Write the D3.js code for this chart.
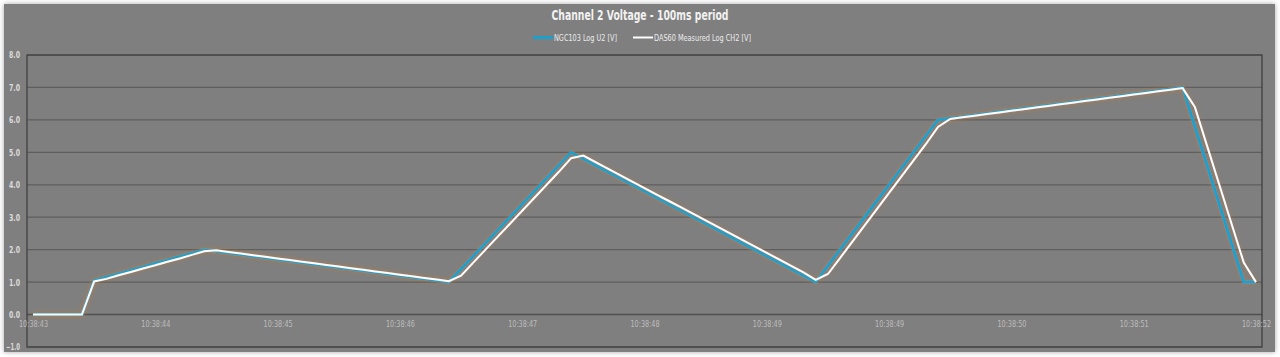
<!DOCTYPE html>
<html><head><meta charset="utf-8">
<script src="https://cdn.jsdelivr.net/npm/d3@7"></script>
<style>html,body{margin:0;padding:0;background:#fff;}svg{display:block;}</style>
</head><body>
<script>
const title = "Channel 2 Voltage - 100ms period";
const seriesNames = ["NGC103 Log U2 [V]", "DAS60 Measured Log CH2 [V]"];
const xTickLabels = ["10:38:43","10:38:44","10:38:45","10:38:46","10:38:47","10:38:48","10:38:49","10:38:49","10:38:50","10:38:51","10:38:52"];
const yTicks = [-1,0,1,2,3,4,5,6,7,8];
// 101 samples, 100 ms apart
const ngc103 = [
 0,0,0,0,0,1.05,1.16,1.26,1.37,1.47,1.58,1.68,1.79,1.89,2.0,
 1.95,1.9,1.85,1.8,1.75,1.7,1.65,1.6,1.55,1.5,1.45,1.4,1.35,1.3,1.25,1.2,1.15,1.1,1.05,1.0,
 1.4,1.8,2.2,2.6,3.0,3.4,3.8,4.2,4.6,5.0,
 4.8,4.6,4.4,4.2,4.0,3.8,3.6,3.4,3.2,3.0,2.8,2.6,2.4,2.2,2.0,1.8,1.6,1.4,1.2,1.0,
 1.5,2.0,2.5,3.0,3.5,4.0,4.5,5.0,5.5,6.0,
 6.05,6.1,6.15,6.2,6.25,6.3,6.35,6.4,6.45,6.5,6.55,6.6,6.65,6.7,6.75,6.8,6.85,6.9,6.95,7.0,
 5.8,4.6,3.4,2.2,1.0,1.0
];
const das60 = [
 0,0,0,0,0,1.02,1.1,1.21,1.31,1.42,1.52,1.63,1.73,1.84,1.95,
 1.98,1.93,1.88,1.83,1.78,1.73,1.68,1.63,1.58,1.53,1.48,1.43,1.38,1.33,1.28,1.23,1.18,1.13,1.08,1.03,
 1.2,1.6,2.0,2.4,2.8,3.2,3.6,4.0,4.4,4.82,
 4.9,4.7,4.5,4.3,4.1,3.9,3.7,3.5,3.3,3.1,2.9,2.7,2.5,2.3,2.1,1.9,1.7,1.5,1.3,1.07,
 1.25,1.75,2.25,2.75,3.25,3.75,4.25,4.75,5.25,5.78,
 6.03,6.08,6.13,6.18,6.23,6.28,6.33,6.38,6.43,6.48,6.53,6.58,6.63,6.68,6.73,6.78,6.83,6.88,6.93,6.98,
 6.4,5.2,4.0,2.8,1.6,1.0
];

const FONT = "'DejaVu Sans Condensed','Liberation Sans',sans-serif";
const W = 1280, H = 357;
const svg = d3.select("body").append("svg").attr("width", W).attr("height", H);
const defs = svg.append("defs");
const sh = defs.append("filter").attr("id","shadow").attr("x","-5%").attr("y","-10%").attr("width","110%").attr("height","120%");
sh.append("feGaussianBlur").attr("in","SourceAlpha").attr("stdDeviation",2.5).attr("result","b");
sh.append("feFlood").attr("flood-color","#000").attr("flood-opacity",0.35);
sh.append("feComposite").attr("in2","b").attr("operator","in");
const glow = defs.append("filter").attr("id","glow").attr("x","-5%").attr("y","-20%").attr("width","110%").attr("height","140%");
glow.append("feGaussianBlur").attr("in","SourceAlpha").attr("stdDeviation",2).attr("result","g");
glow.append("feFlood").attr("flood-color","#d2782a").attr("flood-opacity",0.45);
glow.append("feComposite").attr("in2","g").attr("operator","in").attr("result","gc");
const gm = glow.append("feMerge");
gm.append("feMergeNode").attr("in","gc");
gm.append("feMergeNode").attr("in","SourceGraphic");

svg.append("rect").attr("x",4).attr("y",4).attr("width",1271).attr("height",348).attr("fill","#7f7f7f").attr("filter","url(#shadow)");
svg.append("rect").attr("x",4).attr("y",4).attr("width",1271).attr("height",348).attr("fill","#7f7f7f");

const plot = {l:27, t:55, r:1262, b:347};
const x = d3.scaleLinear().domain([0, ngc103.length-1]).range([33, 1256]);
const y = d3.scaleLinear().domain([-1, 8]).range([plot.b, plot.t]);

svg.append("g").selectAll("line").data(yTicks).join("line")
  .attr("x1", plot.l).attr("x2", plot.r)
  .attr("y1", d=>y(d)).attr("y2", d=>y(d))
  .attr("stroke", d=> d===0 ? "#4f4f4f" : "#5e5e5e")
  .attr("stroke-width", d=> d===0 ? 1.6 : 1.2);

svg.append("rect").attr("x",plot.l).attr("y",plot.t).attr("width",plot.r-plot.l).attr("height",plot.b-plot.t)
  .attr("fill","none").attr("stroke","#404040").attr("stroke-width",1.3);

const yAxis = d3.axisLeft(y).tickValues(yTicks).tickFormat(d3.format(".1f")).tickSize(0).tickPadding(7);
const ya = svg.append("g").attr("transform",`translate(${plot.l},0)`).call(yAxis);
ya.select(".domain").remove();
ya.selectAll("text").attr("fill","#dcdcdc").attr("font-family",FONT).attr("font-size",9).attr("font-weight","bold")
  .attr("textLength", d => d < 0 ? 14 : 11).attr("lengthAdjust","spacingAndGlyphs");

const xAxis = d3.axisBottom(x).tickValues(d3.range(0, ngc103.length, 10)).tickFormat((d,i)=>xTickLabels[i]).tickSize(0).tickPadding(6);
const xa = svg.append("g").attr("transform",`translate(0,${y(0)})`).call(xAxis);
xa.select(".domain").remove();
xa.selectAll("text").attr("fill","#bdbdbd").attr("font-family",FONT).attr("font-size",9.5)
  .attr("textLength",29).attr("lengthAdjust","spacingAndGlyphs");

const line = d3.line().x((d,i)=>x(i)).y(d=>y(d));
svg.append("path").datum(ngc103).attr("d", line).attr("fill","none").attr("stroke","#1aa0cc").attr("stroke-width",3).attr("stroke-linejoin","miter").attr("filter","url(#glow)");
svg.append("path").datum(das60).attr("d", line).attr("fill","none").attr("stroke","#ffffff").attr("stroke-width",2).attr("stroke-linejoin","miter").attr("filter","url(#glow)");

svg.append("text").attr("x",640).attr("y",20).attr("text-anchor","middle")
  .attr("font-family",FONT).attr("font-weight","bold").attr("font-size",13.5)
  .attr("fill","#f2f2f2").attr("textLength",177).attr("lengthAdjust","spacingAndGlyphs").text(title);

const leg = svg.append("g");
const legItems = [{name:seriesNames[0], color:"#1aa0cc", w:3, x:533, tl:63},{name:seriesNames[1], color:"#ffffff", w:2, x:633, tl:97}];
legItems.forEach(it=>{
  leg.append("line").attr("x1",it.x).attr("x2",it.x+20).attr("y1",37.5).attr("y2",37.5).attr("stroke",it.color).attr("stroke-width",it.w);
  leg.append("text").attr("x",it.x+21).attr("y",41).attr("font-family",FONT).attr("font-size",9.5).attr("fill","#ececec")
    .attr("textLength",it.tl).attr("lengthAdjust","spacingAndGlyphs").text(it.name);
});
</script>
</body></html>
